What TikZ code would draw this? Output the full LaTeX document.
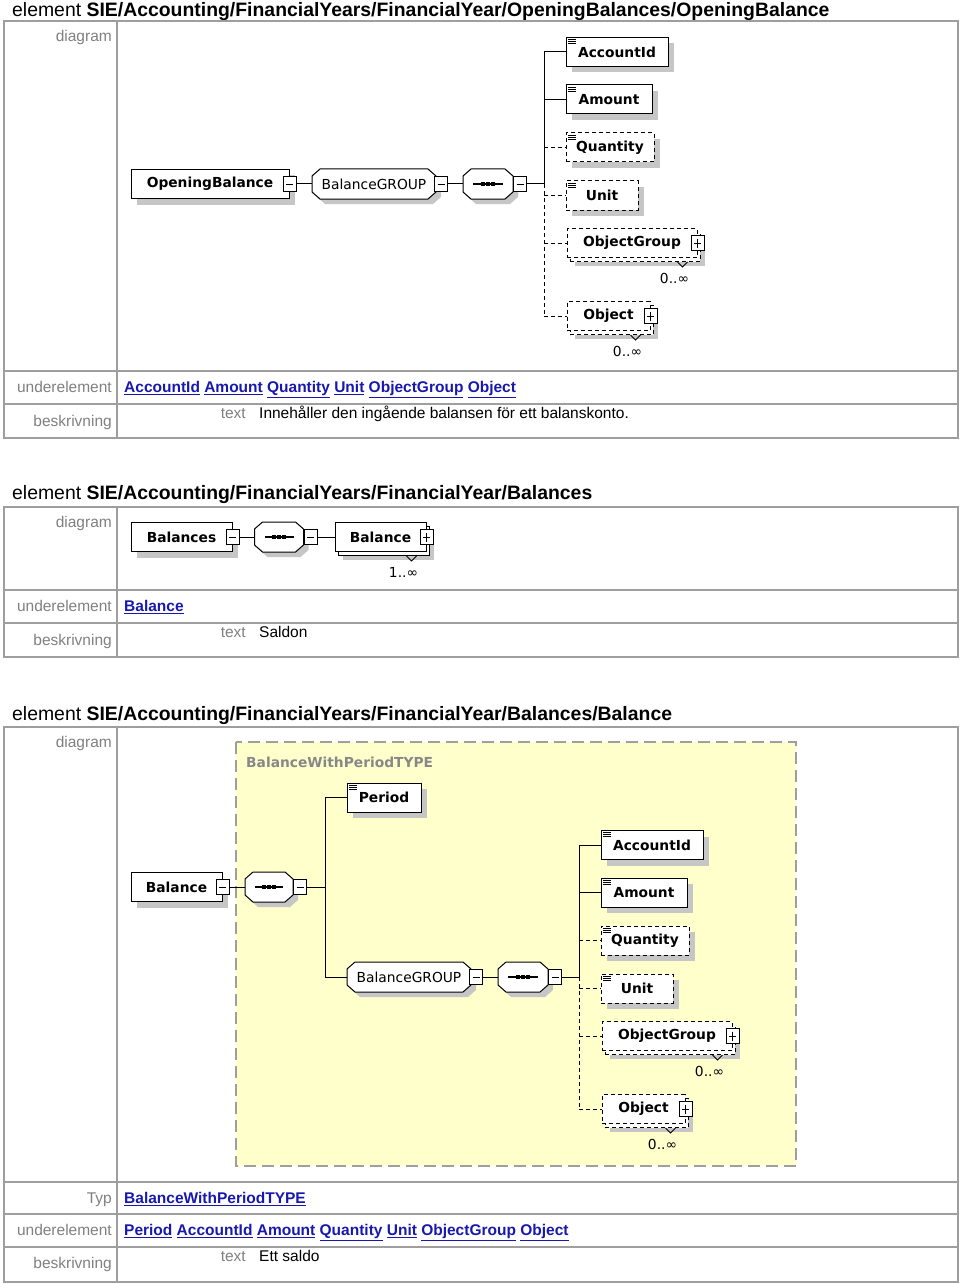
\documentclass[tikz,border=0pt]{standalone}
\usepackage{fontspec}
\setmainfont{Liberation Sans}
\newfontfamily\xsdfont{DejaVu Sans}
\usetikzlibrary{positioning, shadows}

\definecolor{linkblue}{RGB}{24,24,176}
\definecolor{labelgray}{RGB}{128,128,128}
\definecolor{framegray}{RGB}{158,158,158}
\definecolor{shadowgray}{RGB}{198,198,198}
\definecolor{typeyellow}{RGB}{255,255,204}
\definecolor{typegray}{RGB}{136,136,136}

\newcommand{\elemfont}{\xsdfont\bfseries\fontsize{13.8}{16}\selectfont}
\newcommand{\grpfont}{\xsdfont\fontsize{13.8}{16}\selectfont}
\newcommand{\lnk}[1]{\textcolor{linkblue}{\bfseries\underline{#1}}}

\tikzset{
  box/.style={draw, fill=white, line width=1pt, minimum height=29pt,
    inner xsep=0pt, inner ysep=0pt, font=\elemfont},
  elem/.style={box, drop shadow={shadow xshift=6pt, shadow yshift=-6pt,
    fill=shadowgray, opacity=1}},
  multi/.style={box, drop shadow={shadow xshift=8pt, shadow yshift=-8pt,
    fill=shadowgray, opacity=1},
    copy shadow={shadow xshift=3pt, shadow yshift=-4pt, draw=black,
    fill=white, line width=1pt, #1}},
  multi/.default=solid,
  opt/.style={dash pattern=on 4pt off 3pt},
  simple/.style={path picture={
    \foreach \k in {2,4,6}
      \draw[solid, line width=0.9pt]
        ([xshift=2pt, yshift=-\k pt]path picture bounding box.north west) -- ++(8pt,0pt);}},
  octline/.style={draw, fill=white, line width=1pt},
  octtext/.style={minimum height=30pt, inner xsep=0pt, inner ysep=0pt, font=\grpfont},
  pm/.style={draw, solid, fill=white, line width=0.8pt, minimum width=13pt,
    minimum height=15pt, inner sep=0pt},
  minusbox/.style={pm, path picture={
    \draw[line width=0.8pt] ([xshift=3pt]path picture bounding box.west)
      -- ([xshift=-3pt]path picture bounding box.east);}},
  plusbox/.style={pm, path picture={
    \draw[line width=0.8pt] ([xshift=3pt]path picture bounding box.west)
      -- ([xshift=-3pt]path picture bounding box.east)
      ([yshift=-3pt]path picture bounding box.north)
      -- ([yshift=3pt]path picture bounding box.south);}},
  conn/.style={line width=1pt},
  optconn/.style={conn, opt},
  notch/.style={line width=0.8pt},
  occ/.style={font=\grpfont, inner sep=0pt},
  frame/.style={draw=framegray, line width=1.6pt},
  title/.style={anchor=base west, inner sep=0pt, font=\fontsize{19.4}{22}\selectfont},
  rowlabel/.style={anchor=base east, inner sep=0pt, text=labelgray,
    font=\fontsize{15.5}{18}\selectfont},
  cell/.style={anchor=base west, inner sep=0pt, font=\fontsize{15.5}{18}\selectfont},
  typebox/.style={fill=typeyellow, draw=gray!75, line width=2pt,
    dash pattern=on 12pt off 6pt},
  typename/.style={anchor=west, inner sep=0pt, text=typegray, font=\elemfont},
}

% octagon: name, centre, half width, text
\newcommand{\octa}[4]{%
  \begin{scope}[shift={#2}]
    \fill[shadowgray, xshift=5pt, yshift=-5pt] ({-#3+8},-15) -- ({#3-8},-15) -- (#3,-8)
      -- (#3,8) -- ({#3-8},15) -- ({-#3+8},15) -- (-#3,8) -- (-#3,-8) -- cycle;
    \path[octline] ({-#3+8},-15) -- ({#3-8},-15) -- (#3,-8)
      -- (#3,8) -- ({#3-8},15) -- ({-#3+8},15) -- (-#3,8) -- (-#3,-8) -- cycle;
    \node[octtext, minimum width=2*#3pt] (#1) at (0,0) {#4};
  \end{scope}}
% sequence compositor
\newcommand{\seqoct}[3]{%
  \octa{#1}{#2}{#3}{}%
  \begin{scope}[shift={#2}]
    \draw[line width=1.2pt] ({-#3+10},0) -- ({#3-10},0);
    \foreach \d in {-5,0,5}
      \fill ({\d-1.6},-1.6) rectangle ({\d+1.6},1.6);
  \end{scope}}

% BalanceGROUP with its sequence of children
\newcommand{\balgroup}{%
  \octa{grp}{(374,184)}{62}{BalanceGROUP\hspace{3pt}}
  \node[minusbox, anchor=west] (grpm) at ([xshift=-2pt]grp.east) {};
  \seqoct{seq}{(488,184)}{25}
  \node[minusbox, anchor=west] (seqm) at (seq.east) {};
  \coordinate (br) at (544,184);
  \node[elem, simple, minimum width=102pt] (acc) at (617,52) {AccountId};
  \node[elem, simple, minimum width=86pt] (amt) at (609,99.5) {Amount};
  \node[elem, simple, opt, minimum width=88pt] (qty) at (610,147.5) {Quantity};
  \node[elem, simple, opt, minimum width=72pt] (unit) at (602,195.5) {Unit};
  \node[multi={opt}, opt, minimum width=130pt] (objg) at (632,243) {ObjectGroup\hspace{10pt}};
  \node[plusbox] (objgp) at (objg.east) {};
  \draw[notch] ([xshift=-20pt,yshift=-4pt]objg.south east) -- ++(5pt,-5pt) -- ++(5pt,5pt);
  \node[occ] (objgocc) at ([xshift=-23pt,yshift=-20pt]objg.south east) {0..∞};
  \node[multi={opt}, opt, minimum width=83pt] (obj) at (608.5,316) {Object\hspace{10pt}};
  \node[plusbox] (objp) at (obj.east) {};
  \draw[notch] ([xshift=-20pt,yshift=-4pt]obj.south east) -- ++(5pt,-5pt) -- ++(5pt,5pt);
  \node[occ] (objocc) at ([xshift=-23pt,yshift=-20pt]obj.south east) {0..∞};
  \draw[conn] (grpm) -- (seq);
  \draw[conn] (seqm) -- (br);
  \draw[conn] (br) |- (acc.west);
  \draw[conn] (br) |- (amt.west);
  \draw[optconn] (br) -- (br |- obj.west);
  \foreach \c in {qty,unit,objg,obj}
    \draw[optconn] (br |- \c.west) -- (\c.west);
}

\begin{document}
\begin{tikzpicture}[x=1pt, y=-1pt]
  \useasboundingbox (0,0) rectangle (960,1284);

  % OpeningBalance
  \node[title] (t1) at (12,17) {element \textbf{SIE/Accounting/FinancialYears/FinancialYear/OpeningBalances/OpeningBalance}};
  \draw[frame] (4,21) rectangle (958,438) (117,21) -- (117,438)
    (4,371) -- (958,371) (4,404) -- (958,404);
  \node[rowlabel] (d1) at (112,42) {diagram};
  \node[rowlabel] (u1) at (112,392.5) {underelement};
  \node[cell] (l1) at (124,392.5) {\lnk{AccountId} \lnk{Amount} \lnk{Quantity} \lnk{Unit} \lnk{ObjectGroup} \lnk{Object}};
  \node[rowlabel] (b1) at (112,426.5) {beskrivning};
  \node[rowlabel] (x1) at (246,418.5) {text};
  \node[cell] (s1) at (259,418.5) {Innehåller den ingående balansen för ett balanskonto.};

  \node[elem, minimum width=158pt] (ob) at (210,184) {OpeningBalance\hspace{5pt}};
  \node[minusbox] (obm) at (ob.east) {};
  \begin{scope}[name prefix=a-]
    \balgroup
  \end{scope}
  \draw[conn] (obm) -- (a-grp);

  % Balances
  \node[title] (t2) at (12,499) {element \textbf{SIE/Accounting/FinancialYears/FinancialYear/Balances}};
  \draw[frame] (4,507) rectangle (958,657) (117,507) -- (117,657)
    (4,590) -- (958,590) (4,623) -- (958,623);
  \node[rowlabel] (d2) at (112,527.5) {diagram};
  \node[rowlabel] (u2) at (112,611.5) {underelement};
  \node[cell] (l2) at (124,611.5) {\lnk{Balance}};
  \node[rowlabel] (b2) at (112,645.5) {beskrivning};
  \node[rowlabel] (x2) at (246,637.5) {text};
  \node[cell] (s2) at (259,637.5) {Saldon};

  \node[elem, minimum width=101pt] (bals) at (181.5,537) {Balances\hspace{5pt}};
  \node[minusbox] (balsm) at (bals.east) {};
  \seqoct{seq2}{(279,537)}{24.5}
  \node[minusbox, anchor=west] (seq2m) at (seq2.east) {};
  \node[multi, minimum width=91pt] (bal2) at (380.5,537) {Balance\hspace{5pt}};
  \node[plusbox] (bal2p) at (bal2.east) {};
  \draw[notch] ([xshift=-20pt,yshift=-4pt]bal2.south east) -- ++(5pt,-5pt) -- ++(5pt,5pt);
  \node[occ] (bal2occ) at ([xshift=-23pt,yshift=-20pt]bal2.south east) {1..∞};
  \draw[conn] (balsm) -- (seq2);
  \draw[conn] (seq2m) -- (bal2);

  % Balance
  \node[title] (t3) at (12,720) {element \textbf{SIE/Accounting/FinancialYears/FinancialYear/Balances/Balance}};
  \draw[frame] (4,727) rectangle (958,1282) (117,727) -- (117,1282)
    (4,1182) -- (958,1182) (4,1214) -- (958,1214) (4,1247) -- (958,1247);
  \node[rowlabel] (d3) at (112,747.5) {diagram};
  \node[rowlabel] (y3) at (112,1203.5) {Typ};
  \node[cell] (k3) at (124,1203.5) {\lnk{BalanceWithPeriodTYPE}};
  \node[rowlabel] (u3) at (112,1235.5) {underelement};
  \node[cell] (l3) at (124,1235.5) {\lnk{Period} \lnk{AccountId} \lnk{Amount} \lnk{Quantity} \lnk{Unit} \lnk{ObjectGroup} \lnk{Object}};
  \node[rowlabel] (b3) at (112,1268.5) {beskrivning};
  \node[rowlabel] (x3) at (246,1261.5) {text};
  \node[cell] (s3) at (259,1261.5) {Ett saldo};

  \draw[typebox] (236,742) rectangle (796,1166);
  \node[typename] (tn) at (246,762) {BalanceWithPeriodTYPE};
  \node[elem, minimum width=91pt] (bal3) at (176.5,887) {Balance\hspace{5pt}};
  \node[minusbox] (bal3m) at (bal3.east) {};
  \seqoct{seq3}{(269,887)}{24}
  \node[minusbox, anchor=west] (seq3m) at (seq3.east) {};
  \coordinate (br3) at (325,887);
  \node[elem, simple, minimum width=74pt] (per) at (384,797.5) {Period};
  \begin{scope}[shift={(35,793)}, name prefix=b-]
    \balgroup
  \end{scope}
  \draw[conn] (bal3m) -- (seq3);
  \draw[conn] (seq3m) -- (br3);
  \draw[conn] (br3) |- (per.west);
  \draw[conn] (br3) |- (b-grp.west);
\end{tikzpicture}
\end{document}
